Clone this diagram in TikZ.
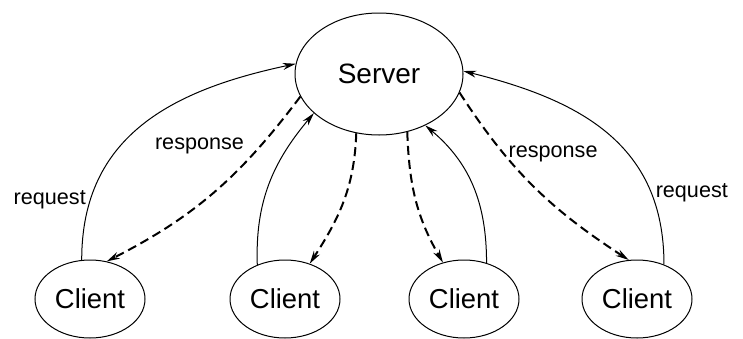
\documentclass[tikz,border=0pt]{standalone}
\usepackage{fontspec}
\setmainfont{Liberation Sans}
\usetikzlibrary{shapes.geometric,arrows.meta}

\begin{document}
\begin{tikzpicture}[x=0.5pt,y=0.5pt,node distance=112.5pt,
    >={Stealth[length=6.5pt,width=3.5pt]},
    srv/.style={draw,ellipse,line width=0.5pt,inner sep=0pt,minimum width=84pt,minimum height=61pt,font=\fontsize{14}{16}\selectfont},
    cli/.style={draw,ellipse,line width=0.5pt,inner sep=0pt,minimum width=55pt,minimum height=39pt,font=\fontsize{13.7}{16}\selectfont},
    req/.style={->,line width=0.5pt},
    resp/.style={->,line width=1pt,dash pattern=on 4.5pt off 2.5pt},
    lbl/.style={font=\fontsize{10.8}{12}\selectfont,inner sep=2pt}]
  \useasboundingbox (0,0) rectangle (743,-338);
  \node [srv] (1) at (379,-74) {Server};
  \node [cli,below of=1,xshift=-144.5pt] (2) {Client};
  \node [cli,below of=1,xshift=-47pt] (3) {Client};
  \node [cli,below of=1,xshift=42.5pt] (4) {Client};
  \node [cli,below of=1,xshift=129pt] (5) {Client};

  \draw[req] (2.102) to[out=90,in=192,looseness=1.1] node [lbl,pos=0.18,left] {request} (1.173);
  \draw[resp] (1.196) to[out=233,in=27] node [lbl,pos=0.3,above left] {response} (2.66);
  \draw[req] (3.129) to[out=92,in=230] (1.211);
  \draw[resp] (1.249) to[out=268,in=57] (3.55);
  \draw[resp] (1.296) to[out=272,in=120] (4.120);
  \draw[req] (4.58) to[out=90,in=320] (1.312);
  \draw[resp] (1.347) to[out=303,in=147] node [lbl,pos=0.3,right] {response} (5.102);
  \draw[req] (5.52) to[out=90,in=346,looseness=1.1] node [lbl,pos=0.23,right] {request} (1.2);
\end{tikzpicture}
\end{document}
